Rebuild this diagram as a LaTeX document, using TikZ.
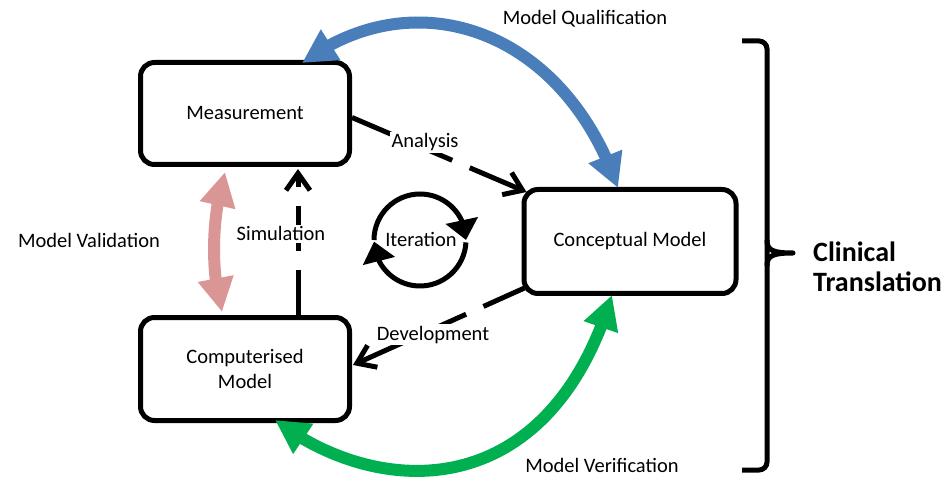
\documentclass[tikz,border=0pt]{standalone}
\usepackage{fontspec}
\setmainfont{Carlito}
\usepackage{tikz}
\usetikzlibrary{arrows.meta,bending}

\definecolor{qualblue}{RGB}{74,126,187}
\definecolor{verigreen}{RGB}{0,176,80}
\definecolor{valipink}{RGB}{217,150,148}

\begin{document}
\begin{tikzpicture}[x=1pt,y=-1pt,
    every node/.style={font=\fontsize{20.5}{24.5}\selectfont},
    stage/.style={draw, line width=5pt, rounded corners=14pt, fill=white, align=center, inner sep=0pt},
    flow/.style={line width=5pt, dash pattern=on 45pt off 19pt on 45pt off 19pt on 200pt, -{Straight Barb[length=17pt,width=24pt]}},
    loopline/.style={line width=5pt, -{Triangle[length=20pt,width=32pt]}},
    link/.style={line width=12pt, {Triangle[length=34pt,width=34pt]}-{Triangle[length=34pt,width=34pt]}},
    tag/.style={fill=white, inner sep=2pt, anchor=base},
    caption/.style={anchor=base, inner sep=0pt}]
    \useasboundingbox (0,0) rectangle (951,481);

    % Boxes
    \node[stage, minimum width=209pt, minimum height=102pt] (meas) at (245,113.5) {Measurement};
    \node[stage, minimum width=209pt, minimum height=103pt] (comp) at (245,369) {Computerised\\Model};
    \node[stage, minimum width=212pt, minimum height=104pt] (concept) at (630,241.5) {Conceptual Model};

    % Dashed steps between boxes
    \draw[flow] ([shift={(0,4)}]meas.east) -- ([shift={(5,5)}]concept.north west);
    \draw[flow] ([shift={(53,0)}]comp.north) -- ([shift={(53,2)}]meas.south);
    \draw[flow] ([shift={(3,-8)}]concept.south west) -- ([shift={(1,-4)}]comp.east);

    % Thick two-way arrows
    \draw[link, qualblue] ([shift={(57,3)}]meas.north) .. controls +(112,-84) and +(-55,-160) .. ([shift={(-12,1)}]concept.north);
    \draw[link, verigreen] ([shift={(30,-3)}]comp.south) .. controls +(103,79) and +(-64,211) .. ([shift={(-18,-1)}]concept.south);
    \draw[link, valipink] ([shift={(-20,5)}]meas.south) .. controls +(-13,43) and +(-12,-43) .. ([shift={(-23,-3)}]comp.north);

    % Iteration loop
    \coordinate (loop) at (420,240);
    \draw[loopline] ([shift={(180:46)}]loop) arc (180:360:46);
    \draw[loopline] ([shift={(3:46)}]loop) arc (3:178:46);
    \node[caption] (iter) at (421,247) {Iteration};

    % Bracket
    \draw[line width=5pt, rounded corners=8pt] (742,41) -- (767,41) -- (767,470) -- (742,470);
    \draw[line width=5pt, line join=round] (767,240) .. controls (767,250) and (772,253) .. (793,253)
        .. controls (772,253) and (767,256) .. (767,266);

    % Labels
    \node[caption] (qual) at (585,25) {Model Qualification};
    \node[caption] (veri) at (602,472) {Model Verification};
    \node[caption] (vali) at (89,248) {Model Validation};
    \node[tag] (ana) at (425,148) {Analysis};
    \node[tag] (sim) at (281,241) {Simulation};
    \node[tag] (dev) at (433,340) {Development};
    \node[caption, font=\bfseries\fontsize{28}{30}\selectfont, align=left, anchor=west] (clin) at (813,267) {Clinical\\Translation};
\end{tikzpicture}
\end{document}
